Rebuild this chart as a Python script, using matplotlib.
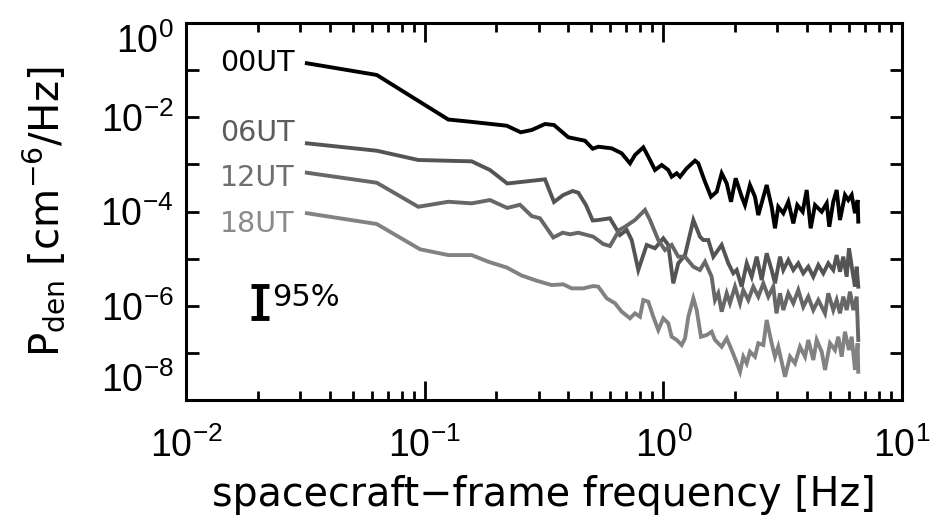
"""
Density power spectra at four times of day (00, 06, 12, 18 UT)
"""

import numpy as np
import matplotlib
matplotlib.use('Agg')
import matplotlib.pyplot as plt
from matplotlib.ticker import LogLocator, FuncFormatter, NullFormatter

plt.rcParams['font.family'] = ['Liberation Sans', 'DejaVu Sans']

# 00UT spectrum
freq_00 = [0.0321, 0.0630, 0.1256, 0.155, 0.2207, 0.2526, 0.2809, 0.3193, 0.3483, 0.3999,
           0.4697, 0.5059, 0.534, 0.6077, 0.669, 0.7251, 0.7607, 0.8245, 0.865, 0.9228,
           0.9845, 1.049, 1.084, 1.138, 1.175, 1.253, 1.358, 1.402, 1.485, 1.584,
           1.674, 1.756, 1.843, 1.921, 2.010, 2.130, 2.198, 2.307, 2.421, 2.500,
           2.711, 2.844, 2.937, 3.031, 3.183, 3.340, 3.505, 3.642, 3.836, 3.987,
           4.144, 4.321, 4.608, 4.836, 4.959, 5.153, 5.325, 5.497, 5.769, 5.957,
           6.155, 6.353, 6.521, 6.559]
pden_00 = [1.40e-1, 7.9e-2, 8.95e-3, 8.05e-3, 6.62e-3, 4.80e-3, 5.36e-3, 7.19e-3, 6.85e-3, 3.76e-3,
           3.18e-3, 2.15e-3, 2.37e-3, 2.19e-3, 1.72e-3, 1.05e-3, 1.58e-3, 2.30e-3, 1.46e-3, 7.6e-4,
           9.7e-4, 7.6e-4, 5.47e-4, 6.47e-4, 5.47e-4, 8.26e-4, 1.20e-3, 1.05e-3, 4.66e-4, 2.06e-4,
           2.63e-4, 6.47e-4, 3.96e-4, 1.61e-4, 5.07e-4, 2.06e-4, 1.37e-4, 3.65e-4, 2.06e-4, 8.4e-5,
           3.65e-4, 1.26e-4, 4.4e-5, 1.26e-4, 9.2e-5, 1.61e-4, 5.6e-5, 1.37e-4, 9.9e-5, 2.86e-4,
           4.4e-5, 1.37e-4, 9.9e-5, 1.49e-4, 4.75e-5, 1.61e-4, 2.86e-4, 6.6e-5, 2.24e-4, 1.75e-4,
           2.24e-4, 9.2e-5, 1.75e-4, 6.1e-5]

# 06UT spectrum
freq_06 = [0.0321, 0.0630, 0.094, 0.1574, 0.1878, 0.2219, 0.3193, 0.3483, 0.3809, 0.4172,
           0.4402, 0.4742, 0.5059, 0.534, 0.5978, 0.6275, 0.658, 0.7022, 0.737, 0.7855,
           0.8518, 0.9228, 0.9998, 1.049, 1.101, 1.155, 1.233, 1.336, 1.424, 1.471,
           1.543, 1.620, 1.756, 1.872, 1.964, 2.030, 2.130, 2.236, 2.346, 2.462,
           2.583, 2.711, 2.844, 2.937, 3.083, 3.183, 3.340, 3.505, 3.677, 3.858,
           4.050, 4.250, 4.461, 4.681, 4.912, 5.153, 5.325, 5.497, 5.675, 5.865,
           5.996, 6.190, 6.353, 6.459, 6.559]
pden_06 = [2.80e-3, 1.95e-3, 1.24e-3, 1.16e-3, 7.6e-4, 3.93e-4, 4.82e-4, 1.59e-4, 2.24e-4, 2.72e-4,
           2.51e-4, 1.37e-4, 6.44e-5, 6.6e-5, 7.18e-5, 4.75e-5, 3.17e-5, 4.05e-5, 2.48e-5, 5.74e-6,
           1.95e-5, 1.66e-5, 2.70e-5, 1.95e-5, 2.99e-6, 7.96e-6, 1.19e-5, 6.6e-5, 2.92e-5, 2.48e-5,
           2.48e-5, 1.10e-5, 1.95e-5, 7.96e-6, 4.89e-6, 5.74e-6, 2.54e-6, 7.96e-6, 4.13e-6, 1.10e-5,
           3.52e-6, 1.30e-5, 5.74e-6, 2.99e-6, 1.10e-5, 5.74e-6, 9.35e-6, 5.74e-6, 7.96e-6, 4.89e-6,
           6.74e-6, 4.13e-6, 7.32e-6, 4.89e-6, 7.96e-6, 5.74e-6, 1.19e-5, 5.28e-6, 1.10e-5, 4.13e-6,
           1.66e-5, 5.74e-6, 2.54e-6, 6.74e-6, 2.54e-6]

# 12UT spectrum
freq_12 = [0.0321, 0.0630, 0.094, 0.1256, 0.1574, 0.1878, 0.2219, 0.2509, 0.2809, 0.3042,
           0.346, 0.3788, 0.4063, 0.4402, 0.5088, 0.5604, 0.5978, 0.654, 0.691, 0.7607,
           0.8381, 0.8796, 0.9526, 1.016, 1.084, 1.155, 1.233, 1.336, 1.424, 1.495,
           1.594, 1.646, 1.699, 1.756, 1.843, 1.902, 1.997, 2.096, 2.163, 2.270,
           2.382, 2.500, 2.624, 2.754, 2.888, 2.980, 3.083, 3.183, 3.340, 3.505,
           3.677, 3.858, 4.050, 4.250, 4.461, 4.758, 4.912, 5.153, 5.325, 5.497,
           5.675, 5.865, 6.056, 6.252, 6.459, 6.559]
pden_12 = [6.65e-4, 4.08e-4, 1.26e-4, 1.61e-4, 1.49e-4, 1.75e-4, 1.19e-4, 1.39e-4, 8.0e-5, 7.18e-5,
           2.81e-5, 3.55e-5, 3.28e-5, 3.55e-5, 2.92e-5, 2.04e-5, 1.85e-5, 4.05e-5, 4.75e-5, 6.6e-5,
           1.08e-4, 6.6e-5, 2.48e-5, 1.52e-5, 1.95e-5, 1.10e-5, 1.10e-5, 6.74e-6, 5.74e-6, 8.6e-6,
           4.13e-6, 1.32e-6, 1.84e-6, 7.5e-7, 1.84e-6, 1.13e-6, 2.54e-6, 1.13e-6, 2.16e-6, 1.32e-6,
           2.54e-6, 1.56e-6, 2.99e-6, 1.56e-6, 2.54e-6, 6.9e-7, 1.84e-6, 8.1e-7, 1.84e-6, 1.13e-6,
           2.16e-6, 9.5e-7, 1.56e-6, 8.1e-7, 1.32e-6, 6.9e-7, 1.84e-6, 8.1e-7, 1.32e-6, 6.9e-7,
           1.56e-6, 8.1e-7, 1.99e-6, 8.1e-7, 1.56e-6, 1.88e-7]

# 18UT spectrum
freq_18 = [0.0321, 0.0630, 0.0956, 0.1256, 0.1574, 0.1848, 0.2207, 0.255, 0.2948, 0.3406,
           0.3809, 0.4131, 0.4620, 0.5088, 0.534, 0.579, 0.6275, 0.669, 0.7251, 0.7607,
           0.7985, 0.8245, 0.865, 0.9078, 0.9526, 0.9998, 1.049, 1.084, 1.138, 1.194,
           1.233, 1.273, 1.336, 1.380, 1.438, 1.519, 1.594, 1.646, 1.756, 1.843,
           1.934, 2.010, 2.096, 2.163, 2.236, 2.307, 2.421, 2.500, 2.624, 2.711,
           2.844, 2.937, 3.031, 3.235, 3.395, 3.562, 3.739, 3.924, 4.051, 4.250,
           4.391, 4.608, 4.758, 4.994, 5.240, 5.410, 5.589, 5.769, 5.996, 6.155,
           6.353, 6.521, 6.559]
pden_18 = [9.2e-5, 5.43e-5, 1.58e-5, 1.19e-5, 1.19e-5, 8.6e-6, 6.48e-6, 4.38e-6, 3.40e-6, 2.75e-6,
           2.85e-6, 2.34e-6, 2.34e-6, 2.62e-6, 2.54e-6, 1.44e-6, 1.13e-6, 7.5e-7, 5.42e-7, 6.9e-7,
           5.86e-7, 1.32e-6, 1.22e-6, 5.86e-7, 3.06e-7, 5.42e-7, 4.25e-7, 2.2e-7, 1.88e-7, 1.47e-7,
           2.04e-7, 5.86e-7, 1.44e-6, 8.1e-7, 2.2e-7, 2.39e-7, 2.81e-7, 1.88e-7, 1.35e-7, 2.04e-7,
           1.15e-7, 7.06e-8, 3.98e-8, 8.3e-8, 6.0e-8, 1.06e-7, 8.3e-8, 1.6e-7, 1.47e-7, 4.99e-7,
           1.6e-7, 8.3e-8, 1.35e-7, 3.12e-8, 8.3e-8, 6.0e-8, 1.35e-7, 8.3e-8, 1.88e-7, 7.06e-8,
           1.88e-7, 1.06e-7, 4.34e-8, 1.6e-7, 1.15e-7, 2.2e-7, 8.3e-8, 2.81e-7, 1.15e-7, 2.2e-7,
           4.34e-8, 1.6e-7, 3.98e-8]

series_labels = ['00UT', '06UT', '12UT', '18UT']

# 95% confidence bar
conf_freq = 0.0204
conf_mid = 1.15e-6
conf_low = 5.5e-7
conf_high = 2.6e-6

line_colors = ['#000000', '#545454', '#676767', '#828282']
text_colors = ['#000000', '#5c5c5c', '#6e6e6e', '#8a8a8a']
wide_font = ['DejaVu Sans']

fig = plt.figure(figsize=(9.44, 5.16), dpi=100)
ax = fig.add_axes([0.197, 0.2248, 0.7585, 0.7306])

series = [(freq_00, pden_00), (freq_06, pden_06), (freq_12, pden_12), (freq_18, pden_18)]
for (f, p), c in zip(series, line_colors):
    ax.plot(f, p, color=c, linewidth=2.8, solid_joinstyle='miter')

# labels on the left of each curve
label_y = [0.894, 0.708, 0.589, 0.466]
for lab, yy, c in zip(series_labels, label_y, text_colors):
    ax.text(0.152, yy, lab, transform=ax.transAxes, ha='right', va='center',
            fontsize=20.5, color=c, family=wide_font)

ax.errorbar([conf_freq], [conf_mid],
            yerr=[[conf_mid - conf_low], [conf_high - conf_mid]],
            fmt='none', ecolor='black', elinewidth=4.5, capsize=6.5, capthick=3.5)
ax.text(0.121, 0.273, '95%', transform=ax.transAxes, ha='left', va='center',
        fontsize=22, family=wide_font)

ax.set_xscale('log')
ax.set_yscale('log')
ax.set_xlim(1e-2, 1e1)
ax.set_ylim(1e-8, 1e0)

ax.xaxis.set_major_locator(LogLocator(base=10, numticks=10))
ax.xaxis.set_minor_locator(LogLocator(base=10, subs=np.arange(2, 10), numticks=20))
ax.xaxis.set_minor_formatter(NullFormatter())
ax.yaxis.set_major_locator(LogLocator(base=10, numticks=20))
ax.yaxis.set_minor_locator(LogLocator(base=10, subs=[], numticks=20))


def exp_label(v, pos):
    e = int(round(np.log10(v)))
    return r'$\mathregular{10^{%d}}$' % e


def exp_label_even(v, pos):
    e = int(round(np.log10(v)))
    if e % 2:
        return ''
    return r'$\mathregular{10^{%d}}$' % e


ax.xaxis.set_major_formatter(FuncFormatter(exp_label))
ax.yaxis.set_major_formatter(FuncFormatter(exp_label_even))

ax.tick_params(which='both', direction='in', top=True, right=True, width=2, color='black')
ax.tick_params(axis='x', which='major', length=14, pad=20, labelsize=27)
ax.tick_params(axis='x', which='minor', length=6.5)
ax.tick_params(axis='y', which='major', length=9, pad=9, labelsize=27)

for s in ax.spines.values():
    s.set_linewidth(2.2)

ax.set_xlabel('spacecraft\u2212frame frequency [Hz]', fontsize=28.5, family=wide_font)
ax.set_ylabel(r'$\mathregular{P_{den}\ [cm^{-6}/Hz]}$', fontsize=29, family=wide_font)
ax.xaxis.set_label_coords(0.5, -0.2)
ax.yaxis.set_label_coords(-0.166, 0.5)

fig.canvas.draw()
for lab in ax.get_yticklabels():
    v = lab.get_position()[1]
    if np.isclose(v, 1.0):
        lab.set_verticalalignment('top')
    elif np.isclose(v, 1e-8):
        lab.set_verticalalignment('bottom')

plt.savefig('out.png', dpi=100)
